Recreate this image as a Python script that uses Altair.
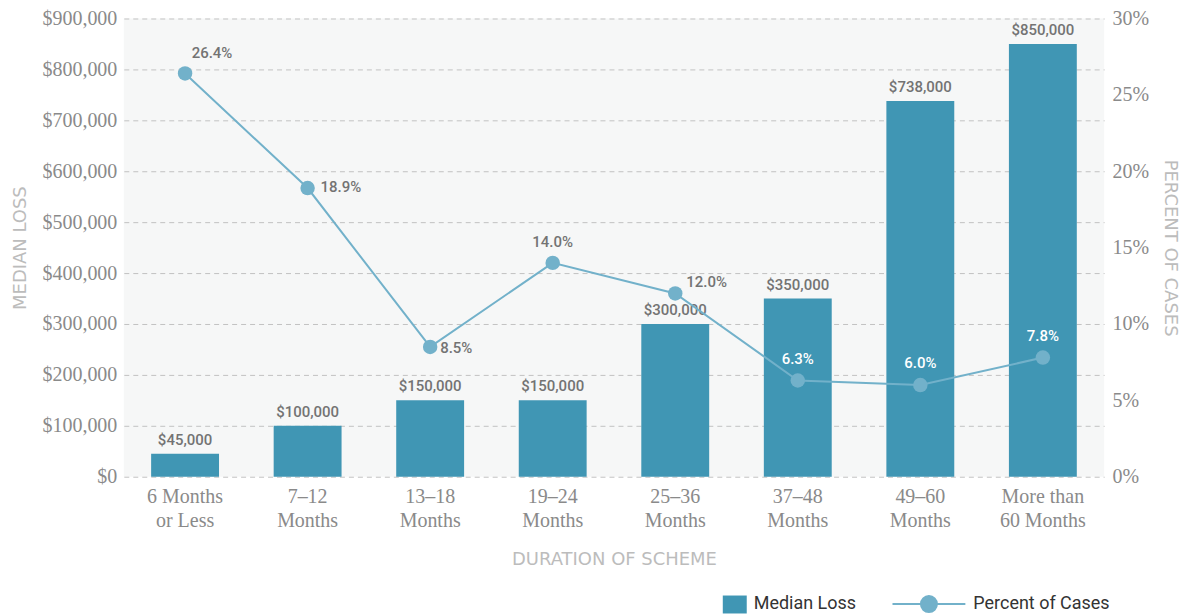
import altair as alt
import pandas as pd

categories = ["6 Months\nor Less", "7–12\nMonths", "13–18\nMonths", "19–24\nMonths",
              "25–36\nMonths", "37–48\nMonths", "49–60\nMonths", "More than\n60 Months"]
median_loss = [45000, 100000, 150000, 150000, 300000, 350000, 738000, 850000]
percent_cases = [26.4, 18.9, 8.5, 14.0, 12.0, 6.3, 6.0, 7.8]
loss_ticks = [0, 100000, 200000, 300000, 400000, 500000, 600000, 700000, 800000, 900000]
pct_ticks = [0, 5, 10, 15, 20, 25, 30]

df = pd.DataFrame({
    "cat": categories,
    "loss": median_loss,
    "pct": percent_cases,
    "bar_series": ["Median Loss"] * len(categories),
    "line_series": ["Percent of Cases"] * len(categories),
})

BAR = "#4096b4"
LINE = "#72b1ca"
SERIF = "Liberation Serif"
SANS = "Roboto"
TITLE_FONT = "DejaVu Sans"
LABEL_GRAY = "#8a8a8a"
TITLE_GRAY = "#bcbcbc"
TEXT_GRAY = "#737373"

x = alt.X(
    "cat:N", sort=categories,
    scale=alt.Scale(paddingInner=0.446, paddingOuter=0.223),
    axis=alt.Axis(
        title="DURATION OF SCHEME", labelExpr="split(datum.value, '\\n')",
        labelAngle=0, labelFont=SERIF, labelFontSize=20, labelColor=LABEL_GRAY,
        labelLineHeight=24, labelPadding=10, labelBaseline="top",
        titleFont=TITLE_FONT, titleFontSize=18, titleColor=TITLE_GRAY, titleFontWeight="normal",
        titlePadding=20, domain=False, ticks=False,
    ),
)

left_axis = alt.Axis(
    values=loss_ticks, format="$,.0f", title="MEDIAN LOSS", orient="left",
    grid=True, gridDash=[5, 4], gridColor="#c2c2c2", gridWidth=1,
    domain=False, ticks=False, labelFont=SERIF, labelFontSize=20, labelColor=LABEL_GRAY,
    labelPadding=7, titleFont=TITLE_FONT, titleFontSize=18, titleColor=TITLE_GRAY,
    titleFontWeight="normal", titlePadding=12,
)
y_left = alt.Y("loss:Q", scale=alt.Scale(domain=[0, 900000], nice=False), axis=left_axis)

right_axis = alt.Axis(
    values=pct_ticks, labelExpr="datum.value + '%'", title="PERCENT OF CASES", orient="right",
    grid=False, domain=False, ticks=False, labelFont=SERIF, labelFontSize=20,
    labelColor=LABEL_GRAY, labelPadding=8, titleFont=TITLE_FONT, titleFontSize=18,
    titleColor=TITLE_GRAY, titleFontWeight="normal", titlePadding=12, titleAngle=90,
)
y_right = alt.Y("pct:Q", scale=alt.Scale(domain=[0, 30], nice=False), axis=right_axis)

base = alt.Chart(df)

RECT_PATH = "M-1,-0.75H1V0.75H-1Z"

bars = base.mark_bar().encode(
    x=x, y=y_left,
    fill=alt.Fill(
        "bar_series:N",
        scale=alt.Scale(domain=["Median Loss"], range=[BAR]),
        legend=alt.Legend(
            orient="none", legendX=600, legendY=575, title=None, symbolType=RECT_PATH,
            symbolSize=576, symbolStrokeWidth=0, labelFont=SANS, labelFontSize=18,
            labelColor="#333333", labelOffset=7,
        ),
    ),
)

bar_text = base.mark_text(
    baseline="bottom", dy=-6, font=SANS, fontSize=15, fontWeight=500, color=TEXT_GRAY
).encode(x=x, y=y_left, text=alt.Text("loss:Q", format="$,.0f"))

LEG_PATH = ("M-1,0L-0.22,0M0.22,0L1,0M-0.22,0A0.22,0.22,0,1,1,0.22,0"
            "A0.22,0.22,0,1,1,-0.22,0Z")

line = base.mark_line(strokeWidth=2).encode(
    x=x, y=y_right,
    stroke=alt.Stroke(
        "line_series:N",
        scale=alt.Scale(domain=["Percent of Cases"], range=[LINE]),
        legend=alt.Legend(
            orient="none", legendX=769, legendY=549, title=None, symbolType=LEG_PATH,
            symbolSize=5329, symbolStrokeWidth=2, symbolFillColor=LINE,
            labelFont=SANS, labelFontSize=18, labelColor="#333333", labelOffset=7,
        ),
    ),
)

points = base.mark_circle(size=210, opacity=1, color=LINE).encode(x=x, y=y_right)

base_pct = base.transform_calculate(label="format(datum.pct, '.1f') + '%'")


def pct_text(cats, dx, dy, align, color):
    return base_pct.transform_filter(
        alt.FieldOneOfPredicate(field="cat", oneOf=cats)
    ).mark_text(
        dx=dx, dy=dy, align=align, baseline="middle", font=SANS, fontSize=15,
        fontWeight=500, color=color,
    ).encode(x=x, y=y_right, text="label:N")


t1 = pct_text([categories[0]], 27, -21, "center", TEXT_GRAY)
t2 = pct_text([categories[1]], 13, -1, "left", TEXT_GRAY)
t3 = pct_text([categories[2]], 10, 1, "left", TEXT_GRAY)
t4 = pct_text([categories[3]], 0, -21, "center", TEXT_GRAY)
t5 = pct_text([categories[4]], 11, -11, "left", TEXT_GRAY)
t6 = pct_text([categories[5], categories[6], categories[7]], 0, -22, "center", "#ffffff")

left = alt.layer(bars, bar_text)
right = alt.layer(line, points, t1, t2, t3, t4, t5, t6)

chart = alt.layer(left, right).resolve_scale(y="independent").properties(
    width=982, height=459,
    padding={"left": 4, "top": 0, "right": 4, "bottom": 0},
).configure_view(fill="#f6f7f7", strokeWidth=0)

chart.save("out.html", embed_options={"renderer": "svg", "actions": False})
